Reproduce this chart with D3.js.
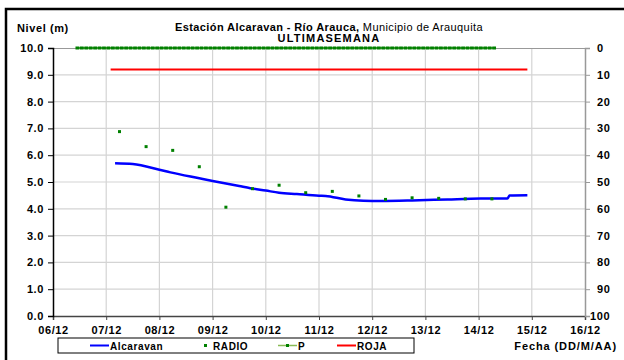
<!DOCTYPE html>
<html>
<head>
<meta charset="utf-8">
<script src="https://cdn.jsdelivr.net/npm/d3@7"></script>
<style>
  body { margin: 0; background: #fff; }
  svg { font-family: "Liberation Sans", Arial, sans-serif; }
  .lbl { font-size: 11px; font-weight: bold; fill: #000; letter-spacing: 0.6px; }
</style>
</head>
<body>
<svg width="624" height="360"></svg>
<script>
// ---- data ----
var dayTicks = ["06/12","07/12","08/12","09/12","10/12","11/12","12/12","13/12","14/12","15/12","16/12"];
var nivelTicks = [0,1,2,3,4,5,6,7,8,9,10];
var pTicks = [0,10,20,30,40,50,60,70,80,90,100];

// Alcaravan level (m)
var alcTimes = ["07/12 04:00","07/12 12:00","08/12 00:00","08/12 05:00","08/12 18:00","09/12 00:00",
                "09/12 12:00","09/12 17:00","10/12 00:00","10/12 06:00","10/12 14:00","11/12 00:00",
                "11/12 03:00","11/12 12:00","11/12 20:00","12/12 04:00","12/12 18:00","13/12 10:00",
                "14/12 01:00","14/12 13:00","14/12 14:00","14/12 22:00"];
var alcValues = [5.70,5.67,5.46,5.36,5.14,5.04,
                 4.85,4.77,4.68,4.60,4.55,4.49,
                 4.48,4.35,4.30,4.29,4.31,4.35,
                 4.38,4.38,4.50,4.51];

// RADIO readings (m)
var radioTimes = ["07/12 06:00","07/12 18:00","08/12 06:00","08/12 18:00","09/12 06:00","09/12 18:00",
                  "10/12 06:00","10/12 18:00","11/12 06:00","11/12 18:00","12/12 06:00","12/12 18:00",
                  "13/12 06:00","13/12 18:00","14/12 06:00"];
var radioValues = [6.88,6.32,6.18,5.57,4.06,4.75,4.88,4.60,4.65,4.48,4.35,4.41,4.39,4.37,4.37];

// P (mm), right axis, every 2 hours from 06/12 11:00
var pStart = "06/12 11:00";
var pValues = [0,0,0,0,0,0,0,0,0,0,0,0,0,0,0,0,0,0,0,0,0,0,0,0,0,0,0,0,0,0,0,0,
               0,0,0,0,0,0,0,0,0,0,0,0,0,0,0,0,0,0,0,0,0,0,0,0,0,0,0,0,0,0,0,0,
               0,0,0,0,0,0,0,0,0,0,0,0,0,0,0,0,0,0,0,0,0,0,0,0,0,0,0,0,0,0,0];

// ROJA alert level (m)
var rojaTimes = ["07/12 02:00","14/12 22:00"];
var rojaValues = [9.2, 9.2];

// ---- setup ----
var parse = d3.utcParse("%d/%m %H:%M");
var parseDay = d3.utcParse("%d/%m");

var svg = d3.select("svg"),
    margin = {top: 48, right: 39, bottom: 44, left: 53},
    width = 624 - margin.left - margin.right,
    height = 360 - margin.top - margin.bottom;

// outer frame
svg.append("rect")
    .attr("x", 6).attr("y", 9).attr("width", 640).attr("height", 380)
    .attr("fill", "none").attr("stroke", "#000").attr("stroke-width", 2.5);

var g = svg.append("g").attr("transform", "translate(" + margin.left + "," + margin.top + ")");

var x = d3.scaleUtc()
    .domain([parseDay(dayTicks[0]), parseDay(dayTicks[dayTicks.length - 1])])
    .range([0, width]);
var y = d3.scaleLinear().domain([0, 10]).range([height, 0]);
var y2 = d3.scaleLinear().domain([0, 100]).range([0, height]);

// gridlines
g.append("g")
    .selectAll("line")
    .data(nivelTicks.slice(1, -1))
  .enter().append("line")
    .attr("x1", 0).attr("x2", width)
    .attr("y1", function(d) { return y(d); }).attr("y2", function(d) { return y(d); })
    .attr("stroke", "#d4d4d4").attr("stroke-width", 1.2);
g.append("g")
    .selectAll("line")
    .data(dayTicks.slice(1, -1))
  .enter().append("line")
    .attr("x1", function(d) { return x(parseDay(d)); }).attr("x2", function(d) { return x(parseDay(d)); })
    .attr("y1", 0).attr("y2", height)
    .attr("stroke", "#d4d4d4").attr("stroke-width", 1.2);

// top border
g.append("line").attr("x1", 0).attr("x2", width).attr("y1", 0.5).attr("y2", 0.5)
    .attr("stroke", "#999").attr("stroke-width", 1.2);

// axes
var xAxis = g.append("g")
    .attr("transform", "translate(0," + height + ")")
    .call(d3.axisBottom(x)
        .tickValues(dayTicks.map(parseDay))
        .tickSize(4)
        .tickFormat(d3.utcFormat("%d/%m")));
xAxis.select(".domain").attr("stroke", "#444").attr("stroke-width", 1.5);
xAxis.selectAll(".tick line").attr("stroke", "#444");
xAxis.selectAll("text").attr("class", "lbl").attr("dy", "1.05em").attr("y", 6);

var yAxis = g.append("g")
    .call(d3.axisLeft(y)
        .tickValues(nivelTicks)
        .tickSize(5)
        .tickFormat(d3.format(".1f")));
yAxis.select(".domain").attr("stroke", "#000").attr("stroke-width", 1.5);
yAxis.selectAll(".tick line").attr("stroke", "#000");
yAxis.selectAll("text").attr("class", "lbl").attr("x", -9);

var y2Axis = g.append("g")
    .attr("transform", "translate(" + width + ",0)")
    .call(d3.axisRight(y2)
        .tickValues(pTicks)
        .tickSize(5));
y2Axis.select(".domain").attr("stroke", "#999").attr("stroke-width", 1.5);
y2Axis.selectAll(".tick line").attr("stroke", "#999");
y2Axis.selectAll("text").attr("class", "lbl")
    .attr("x", function(d) { return d === 100 ? 5 : 12; });

// ROJA line
var rojaData = rojaTimes.map(function(t, i) { return {t: parse(t), v: rojaValues[i]}; });
g.append("path")
    .datum(rojaData)
    .attr("fill", "none").attr("stroke", "#ff0000").attr("stroke-width", 2)
    .attr("d", d3.line().x(function(d) { return x(d.t); }).y(function(d) { return y(d.v); }));

// P series (right axis)
var p0 = parse(pStart);
var pData = pValues.map(function(v, i) { return {t: d3.utcHour.offset(p0, i * 2), v: v}; });
g.append("path")
    .datum(pData)
    .attr("fill", "none").attr("stroke", "#55a040").attr("stroke-width", 2)
    .attr("d", d3.line().x(function(d) { return x(d.t); }).y(function(d) { return y2(d.v); }));
g.selectAll(".pmark")
    .data(pData)
  .enter().append("rect")
    .attr("class", "pmark")
    .attr("x", function(d) { return x(d.t) - 1.9; })
    .attr("y", function(d) { return y2(d.v) - 1.5; })
    .attr("width", 3.8).attr("height", 3)
    .attr("fill", "#008000");

// Alcaravan line
var alcData = alcTimes.map(function(t, i) { return {t: parse(t), v: alcValues[i]}; });
g.append("path")
    .datum(alcData)
    .attr("fill", "none").attr("stroke", "#0000ff").attr("stroke-width", 2.5)
    .attr("stroke-linejoin", "round")
    .attr("d", d3.line().curve(d3.curveMonotoneX)
        .x(function(d) { return x(d.t); }).y(function(d) { return y(d.v); }));

// RADIO points
g.selectAll(".dot")
    .data(radioTimes.map(function(t, i) { return {t: parse(t), v: radioValues[i]}; }))
  .enter().append("rect")
    .attr("class", "dot")
    .attr("x", function(d) { return x(d.t) - 1.5; })
    .attr("y", function(d) { return y(d.v) - 1.5; })
    .attr("width", 3).attr("height", 3)
    .attr("fill", "#008000");

// titles
svg.append("text").attr("class", "lbl").attr("x", 17).attr("y", 32).text("Nivel (m)");

var title = svg.append("text").attr("x", 329).attr("y", 31)
    .attr("text-anchor", "middle").style("font-size", "11px").style("letter-spacing", "0.4px");
title.append("tspan").attr("font-weight", "bold").text("Estación Alcaravan - Río Arauca,");
title.append("tspan").text(" Municipio de Arauquita");
svg.append("text").attr("class", "lbl").attr("x", 329).attr("y", 42)
    .attr("text-anchor", "middle").style("letter-spacing", "1.2px").text("ULTIMASEMANA");

svg.append("text").attr("class", "lbl").attr("x", 617).attr("y", 350)
    .attr("text-anchor", "end").style("letter-spacing", "0.9px").text("Fecha (DD/M/AA)");

// legend
var leg = svg.append("g");
leg.append("rect").attr("x", 58).attr("y", 338).attr("width", 356).attr("height", 15)
    .attr("fill", "#fff").attr("stroke", "#000").attr("stroke-width", 1);
var legItems = [
    {name: "Alcaravan", x: 90, type: "line", color: "#0000ff"},
    {name: "RADIO", x: 196, type: "dot", color: "#008000"},
    {name: "P", x: 278, type: "linedot", color: "#88bb55"},
    {name: "ROJA", x: 337, type: "line", color: "#ff0000"}
];
legItems.forEach(function(it) {
    if (it.type !== "dot") {
        leg.append("line").attr("x1", it.x).attr("x2", it.x + 19).attr("y1", 345.5).attr("y2", 345.5)
            .attr("stroke", it.color).attr("stroke-width", it.type === "line" ? 2 : 1.5);
    }
    if (it.type !== "line") {
        leg.append("rect").attr("x", it.x + 8).attr("y", 344).attr("width", 3).attr("height", 3)
            .attr("fill", "#008000");
    }
    leg.append("text").attr("class", "lbl").style("font-size", "10px").style("letter-spacing", "0.6px")
        .attr("x", it.type === "dot" ? it.x + 17 : it.x + 20).attr("y", 349.5).text(it.name);
});
</script>
</body>
</html>
